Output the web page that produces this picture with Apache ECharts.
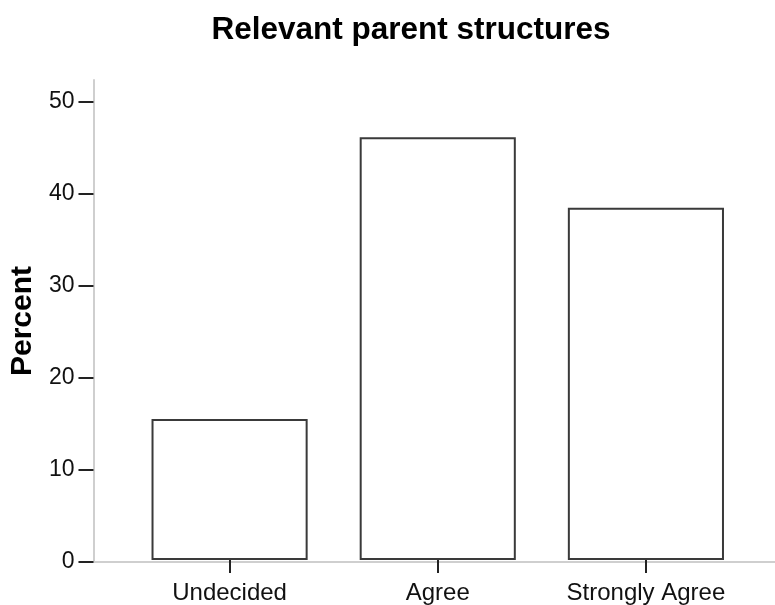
<!DOCTYPE html>
<html>
<head>
<meta charset="utf-8">
<script src="https://cdn.jsdelivr.net/npm/echarts@6/dist/echarts.min.js"></script>
<style>
  html, body { margin: 0; padding: 0; background: #fff; }
  #chart { width: 775px; height: 605px; }
</style>
</head>
<body>
<div id="chart"></div>
<script>
const categories = ['Undecided', 'Agree', 'Strongly Agree'];
const percentValues = [15.38, 46.15, 38.46];
const yTicks = [0, 10, 20, 30, 40, 50];

const FONT = '"Liberation Sans", Arial, sans-serif';
const yMax = 52.4;

const chart = echarts.init(document.getElementById('chart'));

chart.setOption({
  animation: false,
  title: {
    text: 'Relevant parent structures',
    left: 406,
    top: 9,
    textAlign: 'center',
    textStyle: { fontFamily: FONT, fontSize: 31.5, fontWeight: 'bold', color: '#000' }
  },
  grid: [
    // bars
    { left: 125.5, right: 25, top: 80, bottom: 43 },
    // axis frame
    { left: 90, right: 0, top: 80, bottom: 43 }
  ],
  xAxis: [
    {
      type: 'category',
      gridIndex: 0,
      data: categories,
      offset: 3,
      axisLine: { show: false },
      axisTick: { show: true, alignWithLabel: true, length: 13, lineStyle: { color: '#222', width: 2 } },
      axisLabel: { fontFamily: FONT, fontSize: 24, color: '#111', margin: 18 },
      splitLine: { show: false }
    },
    {
      type: 'value',
      gridIndex: 1,
      min: 0,
      max: 1,
      axisLine: { show: true, lineStyle: { color: '#cfcfcf', width: 2 } },
      axisTick: { show: false },
      axisLabel: { show: false },
      splitLine: { show: false }
    }
  ],
  yAxis: [
    {
      type: 'value',
      gridIndex: 0,
      min: 0,
      max: yMax,
      show: false,
      splitLine: { show: false }
    },
    {
      type: 'value',
      gridIndex: 1,
      min: 0,
      max: yMax,
      name: 'Percent',
      nameLocation: 'middle',
      nameGap: 51,
      nameTextStyle: { fontFamily: FONT, fontSize: 30, fontWeight: 'bold', color: '#000' },
      axisLine: { show: true, lineStyle: { color: '#cfcfcf', width: 2 } },
      axisTick: { show: true, length: 15, customValues: yTicks, lineStyle: { color: '#222', width: 2 } },
      axisLabel: { fontFamily: FONT, fontSize: 23, color: '#111', margin: 19, customValues: yTicks },
      splitLine: { show: false }
    }
  ],
  series: [
    {
      type: 'bar',
      xAxisIndex: 0,
      yAxisIndex: 0,
      data: percentValues,
      barCategoryGap: '25%',
      itemStyle: { color: '#fff', borderColor: '#3a3a3a', borderWidth: 2 }
    }
  ]
});
</script>
</body>
</html>
